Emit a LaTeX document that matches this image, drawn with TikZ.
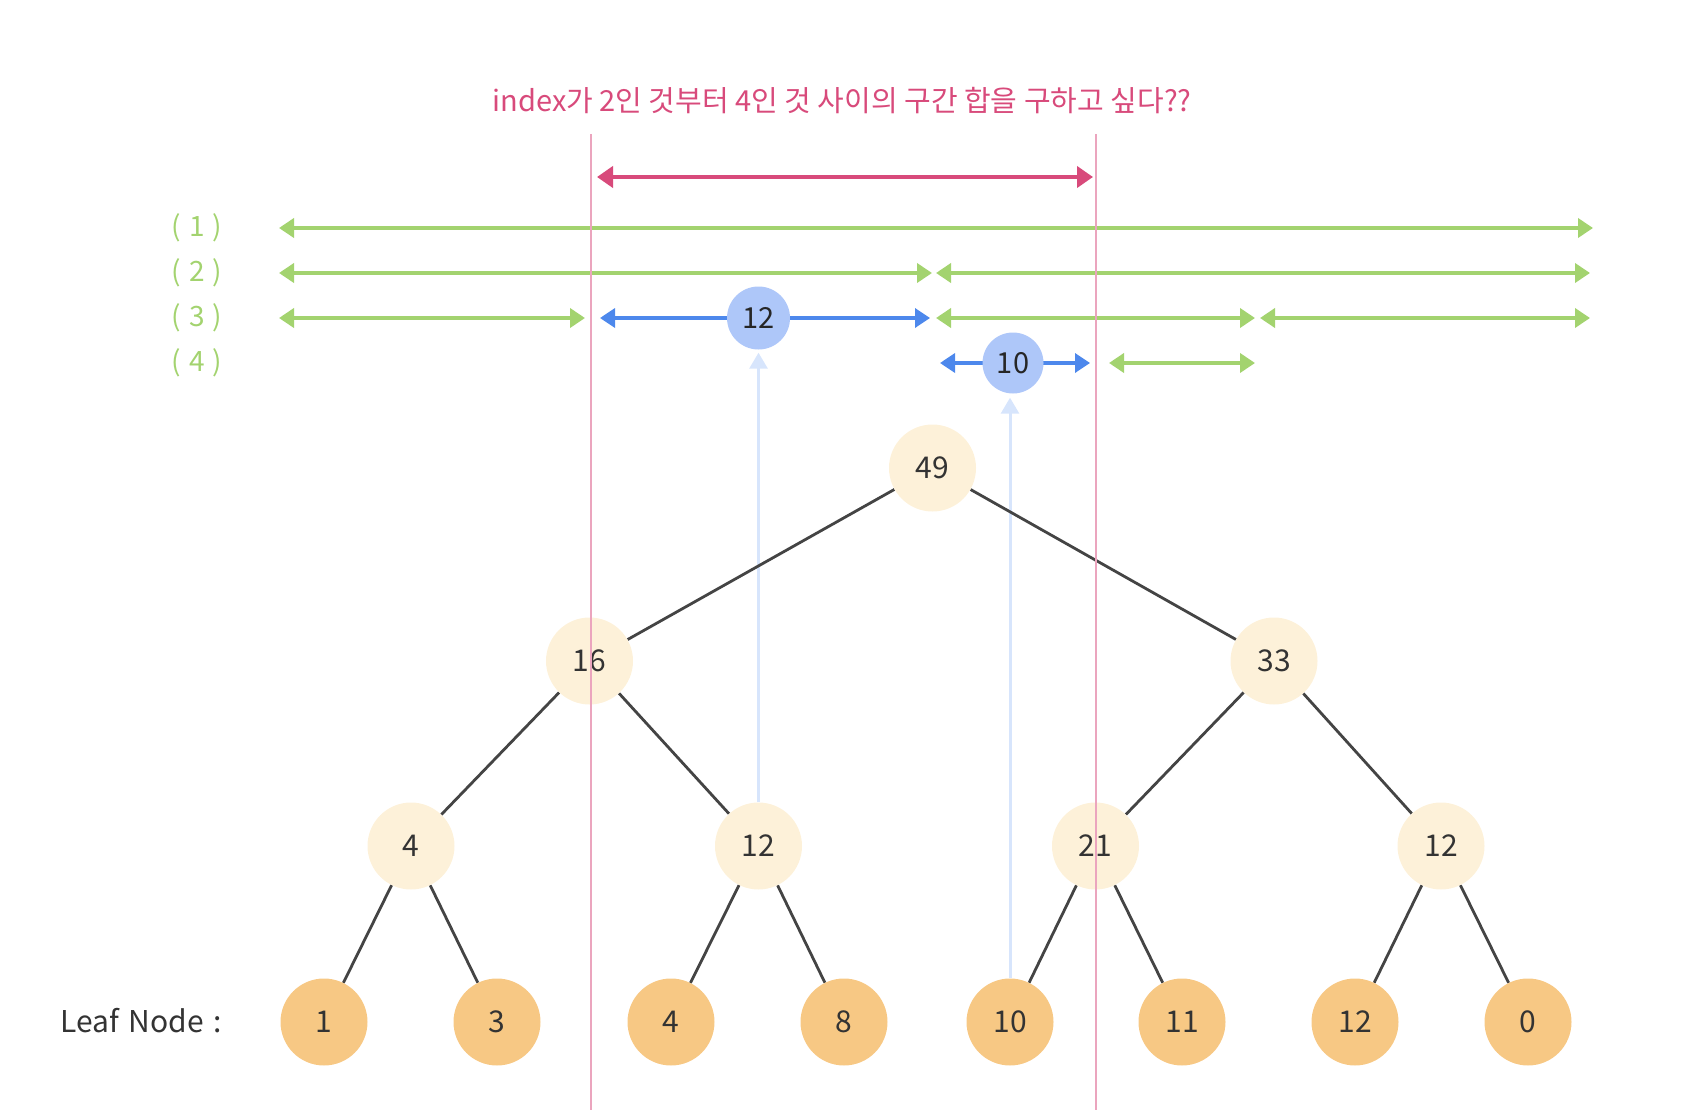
\documentclass[tikz,border=0pt]{standalone}
\usepackage{fontspec}
\setmainfont{Noto Sans CJK KR}
\usetikzlibrary{arrows.meta}
\definecolor{leafc}{HTML}{F7C884}
\definecolor{innerc}{HTML}{FDF1D9}
\definecolor{bluec}{HTML}{AEC7F9}
\definecolor{bluearr}{HTML}{4D88EC}
\definecolor{greenc}{HTML}{A3D36F}
\definecolor{pinkc}{HTML}{D84A7B}
\definecolor{pinkline}{HTML}{EBA5BE}
\definecolor{lightblue}{HTML}{D7E5FC}
\definecolor{edgec}{HTML}{444444}
\definecolor{txt}{HTML}{333333}
\pgfdeclarelayer{back}
\pgfdeclarelayer{mid}
\pgfdeclarelayer{front}
\pgfsetlayers{back,mid,main,front}
\tikzset{
  numfont/.style={font=\fontsize{30}{36}\selectfont, text=txt},
  leaf/.style={circle, fill=leafc, minimum size=87pt, inner sep=0pt, numfont},
  inner/.style={circle, fill=innerc, minimum size=87pt, inner sep=0pt, numfont},
  bluenode/.style={circle, fill=bluec, minimum size=63pt, inner sep=0pt, font=\fontsize{29}{34}\selectfont, text=black!85},
  edge/.style={draw=edgec, line width=2.8pt},
  rng/.style={draw=greenc, line width=4pt, {Triangle[width=19pt,length=15pt]}-{Triangle[width=19pt,length=15pt]}},
  brng/.style={draw=bluearr, line width=3.5pt, {Triangle[width=19pt,length=15pt]}-{Triangle[width=19pt,length=15pt]}},
  prng/.style={draw=pinkc, line width=4pt, {Triangle[width=21pt,length=16pt]}-{Triangle[width=21pt,length=16pt]}},
  vline/.style={draw=pinkline, line width=2.2pt},
  upline/.style={draw=lightblue, line width=3pt, -{Triangle[width=18pt,length=16pt]}},
  lvl/.style={text=greenc, font=\fontsize{28}{32}\selectfont},
}
\begin{document}
\begin{tikzpicture}[x=1pt,y=-1pt]
\useasboundingbox (0,0) rectangle (1686,1110);

% title
\node[text=pinkc, font=\fontsize{29}{34}\selectfont] (title) at (842,101) {index가 2인 것부터 4인 것 사이의 구간 합을 구하고 싶다??};

% pink query range
\coordinate (pa) at (597,177);
\coordinate (pb) at (1093,177);
\begin{pgfonlayer}{mid}
\draw[prng] (pa) -- (pb);
\end{pgfonlayer}

% level labels
\node[lvl] (L1) at (197,228) {(\hspace{8pt}1\hspace{8pt})};
\node[lvl] (L2) at (197,273) {(\hspace{8pt}2\hspace{8pt})};
\node[lvl] (L3) at (197,318) {(\hspace{8pt}3\hspace{8pt})};
\node[lvl] (L4) at (197,363) {(\hspace{8pt}4\hspace{8pt})};

% range coordinates
\coordinate (r1a) at (279,228);  \coordinate (r1b) at (1593,228);
\coordinate (r2a) at (279,273);  \coordinate (r2b) at (932,273);
\coordinate (r2c) at (936,273);  \coordinate (r2d) at (1590,273);
\coordinate (r3a) at (279,318);  \coordinate (r3b) at (585,318);
\coordinate (r3c) at (600,318);  \coordinate (r3d) at (930,318);
\coordinate (r3e) at (936,318);  \coordinate (r3f) at (1255,318);
\coordinate (r3g) at (1260,318); \coordinate (r3h) at (1590,318);
\coordinate (r4a) at (940,363);  \coordinate (r4b) at (1090,363);
\coordinate (r4c) at (1109,363); \coordinate (r4d) at (1255,363);

\begin{pgfonlayer}{mid}
\draw[rng] (r1a) -- (r1b);
\draw[rng] (r2a) -- (r2b);
\draw[rng] (r2c) -- (r2d);
\draw[rng] (r3a) -- (r3b);
\draw[brng] (r3c) -- (r3d);
\draw[rng] (r3e) -- (r3f);
\draw[rng] (r3g) -- (r3h);
\draw[brng] (r4a) -- (r4b);
\draw[rng] (r4c) -- (r4d);
\end{pgfonlayer}

% blue result nodes
\node[bluenode] (b12) at (758.5,318) {12};
\node[bluenode, minimum size=61pt] (b10) at (1013,363) {10};

% tree
\node[inner] (root) at (932.5,468) {49};
\node[inner] (n16) at (589.5,661) {16};
\node[inner] (n33) at (1274,661) {33};
\node[inner] (m1) at (411,846) {4};
\node[inner] (m2) at (758.5,846) {12};
\node[inner] (m3) at (1095.5,846) {21};
\node[inner] (m4) at (1441,846) {12};
\node[leaf] (l1) at (324,1022) {1};
\node[leaf] (l2) at (497,1022) {3};
\node[leaf] (l3) at (671,1022) {4};
\node[leaf] (l4) at (844,1022) {8};
\node[leaf] (l5) at (1010,1022) {10};
\node[leaf] (l6) at (1182,1022) {11};
\node[leaf] (l7) at (1355,1022) {12};
\node[leaf] (l8) at (1528,1022) {0};

\node[text=txt, font=\fontsize{30}{36}\selectfont, anchor=west] (leaflbl) at (57,1021) {Leaf\hspace{3pt} Node\hspace{3pt} :};

\begin{pgfonlayer}{mid}
\draw[edge] (root) -- (n16);
\draw[edge] (root) -- (n33);
\draw[edge] (n16) -- (m1);
\draw[edge] (n16) -- (m2);
\draw[edge] (n33) -- (m3);
\draw[edge] (n33) -- (m4);
\draw[edge] (m1) -- (l1);
\draw[edge] (m1) -- (l2);
\draw[edge] (m2) -- (l3);
\draw[edge] (m2) -- (l4);
\draw[edge] (m3) -- (l5);
\draw[edge] (m3) -- (l6);
\draw[edge] (m4) -- (l7);
\draw[edge] (m4) -- (l8);
\end{pgfonlayer}

\begin{pgfonlayer}{back}
\draw[upline, shorten >=3pt] (m2.north) -- (b12.south);
\draw[upline, shorten >=4pt] (l5.north) -- (l5.north |- b10.south);
\end{pgfonlayer}

% pink vertical lines
\coordinate (v1t) at (591,134); \coordinate (v1b) at (591,1110);
\coordinate (v2t) at (1096,134); \coordinate (v2b) at (1096,1110);
\begin{pgfonlayer}{front}
\draw[vline] (v1t) -- (v1b);
\draw[vline] (v2t) -- (v2b);
\end{pgfonlayer}
\end{tikzpicture}
\end{document}
